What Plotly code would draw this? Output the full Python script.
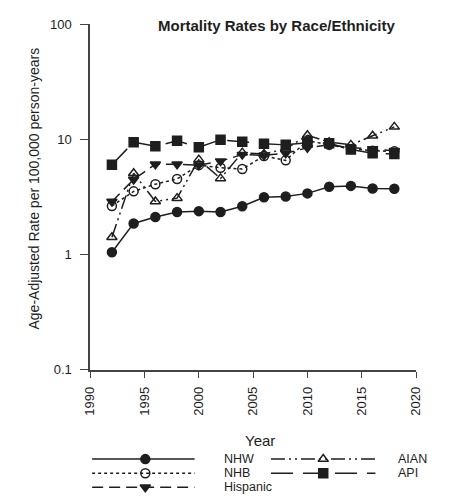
import plotly.graph_objects as go

years = [1992, 1994, 1996, 1998, 2000, 2002, 2004, 2006, 2008, 2010, 2012, 2014, 2016, 2018]
nhw = [1.05, 1.87, 2.13, 2.35, 2.39, 2.35, 2.64, 3.16, 3.2, 3.41, 3.89, 3.96, 3.76, 3.74]
nhb = [2.65, 3.55, 4.1, 4.55, 6.0, 5.7, 5.55, 7.2, 6.6, 9.8, 9.0, 8.3, 8.0, 7.9]
hispanic = [2.9, 4.5, 6.1, 6.1, 6.0, 6.5, 7.4, 7.3, 7.6, 8.5, 9.0, 8.5, 8.3, 8.0]
aian = [1.42, 5.1, 2.9, 3.1, 6.7, 4.6, 7.7, 7.5, 8.3, 10.9, 9.5, 9.0, 10.8, 12.9]
api = [6.05, 9.5, 8.75, 9.75, 8.6, 9.95, 9.6, 9.2, 9.0, 9.4, 9.3, 8.2, 7.6, 7.5]

series_names = ["NHW", "NHB", "Hispanic", "AIAN", "API"]
series_values = [nhw, nhb, hispanic, aian, api]

y_ticks = [0.1, 1, 10, 100]
y_ticktext = ["0.1", "1", "10", "100"]
x_ticks = [1990, 1995, 2000, 2005, 2010, 2015, 2020]

INK = "#1e1e1e"
FONT = "Liberation Sans, Arial, sans-serif"
W, H = 454, 503

styles = {
    "NHW": dict(dash="solid", symbol="circle"),
    "NHB": dict(dash="dot", symbol="circle-open"),
    "Hispanic": dict(dash="11px,6px", symbol="triangle-down"),
    "AIAN": dict(dash="14px,4px,2px,4px,2px,4px", symbol="triangle-up-open"),
    "API": dict(dash="22px,10px", symbol="square"),
}

fig = go.Figure()

for name, vals in zip(series_names, series_values):
    st = styles[name]
    fig.add_trace(go.Scatter(
        x=years, y=vals, mode="lines+markers", name=name,
        line=dict(color=INK, width=1.5, dash=st["dash"]),
        marker=dict(symbol=st["symbol"], size=9, color=INK,
                    line=dict(color=INK, width=1.5)),
        showlegend=False, xaxis="x", yaxis="y",
    ))

# custom legend drawn in a hidden pixel-space axis
legend_layout = [
    ("NHW", 87, 193, 142, 466, 222),
    ("NHB", 87, 193, 142, 480.5, 222),
    ("Hispanic", 87, 193, 142, 495, 222),
    ("AIAN", 272, 380, 326, 466, 402),
    ("API", 272, 380, 326, 480.5, 402),
]
for name, x0, x1, xm, yy, xl in legend_layout:
    st = styles[name]
    fig.add_trace(go.Scatter(
        x=[x0, xm, x1], y=[yy, yy, yy], mode="lines",
        line=dict(color=INK, width=1.5, dash=st["dash"]),
        showlegend=False, xaxis="x2", yaxis="y2", hoverinfo="skip",
    ))
    fig.add_trace(go.Scatter(
        x=[xm], y=[yy], mode="markers",
        marker=dict(symbol=st["symbol"], size=9, color=INK,
                    line=dict(color=INK, width=1.5)),
        showlegend=False, xaxis="x2", yaxis="y2", hoverinfo="skip",
    ))
    fig.add_annotation(x=xl, y=yy, xref="x2", yref="y2", text=name,
                       showarrow=False, xanchor="left", yanchor="middle",
                       borderpad=0,
                       font=dict(family=FONT, size=12.5, color=INK))

x0p, x1p = 85, 422
y0p, y1p = 18, 374

fig.update_layout(
    width=W, height=H,
    margin=dict(l=0, r=0, t=0, b=0),
    paper_bgcolor="white", plot_bgcolor="rgba(0,0,0,0)",
    font=dict(family=FONT, color=INK),
    xaxis=dict(
        domain=[x0p / W, x1p / W], range=[1990, 2020],
        tickvals=x_ticks, tickangle=-90,
        ticks="outside", ticklen=6, tickwidth=1.3, tickcolor="#444",
        ticklabelstandoff=4,
        showline=True, linecolor="#444", linewidth=1.7,
        showgrid=False, zeroline=False,
        tickfont=dict(family=FONT, size=13, color=INK),
        anchor="y",
    ),
    yaxis=dict(
        domain=[1 - y1p / H, 1 - y0p / H], type="log", range=[-1, 2],
        tickvals=y_ticks, ticktext=y_ticktext,
        ticks="outside", ticklen=8, tickwidth=1.3, tickcolor="#444",
        ticklabelstandoff=6,
        showline=True, linecolor="#444", linewidth=1.7,
        showgrid=False, zeroline=False,
        tickfont=dict(family=FONT, size=13, color=INK),
        anchor="x",
    ),
    xaxis2=dict(domain=[0, 1], range=[0, W], visible=False, anchor="y2"),
    yaxis2=dict(domain=[0, 1], range=[H, 0], visible=False, anchor="x2"),
    showlegend=False,
)

fig.add_annotation(x=278 / W, y=1 - 19 / H, xref="paper", yref="paper",
                   text="<b>Mortality Rates by Race/Ethnicity</b>", showarrow=False,
                   xanchor="center", yanchor="middle", borderpad=0,
                   font=dict(family=FONT, size=15, color=INK))
fig.add_annotation(x=27 / W, y=1 - 187 / H, xref="paper", yref="paper",
                   text="Age-Adjusted Rate per 100,000 person-years", textangle=-90,
                   showarrow=False, xanchor="center", yanchor="middle", borderpad=0,
                   font=dict(family=FONT, size=14, color=INK))
fig.add_annotation(x=261 / W, y=1 - 447 / H, xref="paper", yref="paper",
                   text="Year", showarrow=False, xanchor="center", yanchor="middle",
                   borderpad=0,
                   font=dict(family=FONT, size=15, color=INK))

fig.write_html("out.html")
